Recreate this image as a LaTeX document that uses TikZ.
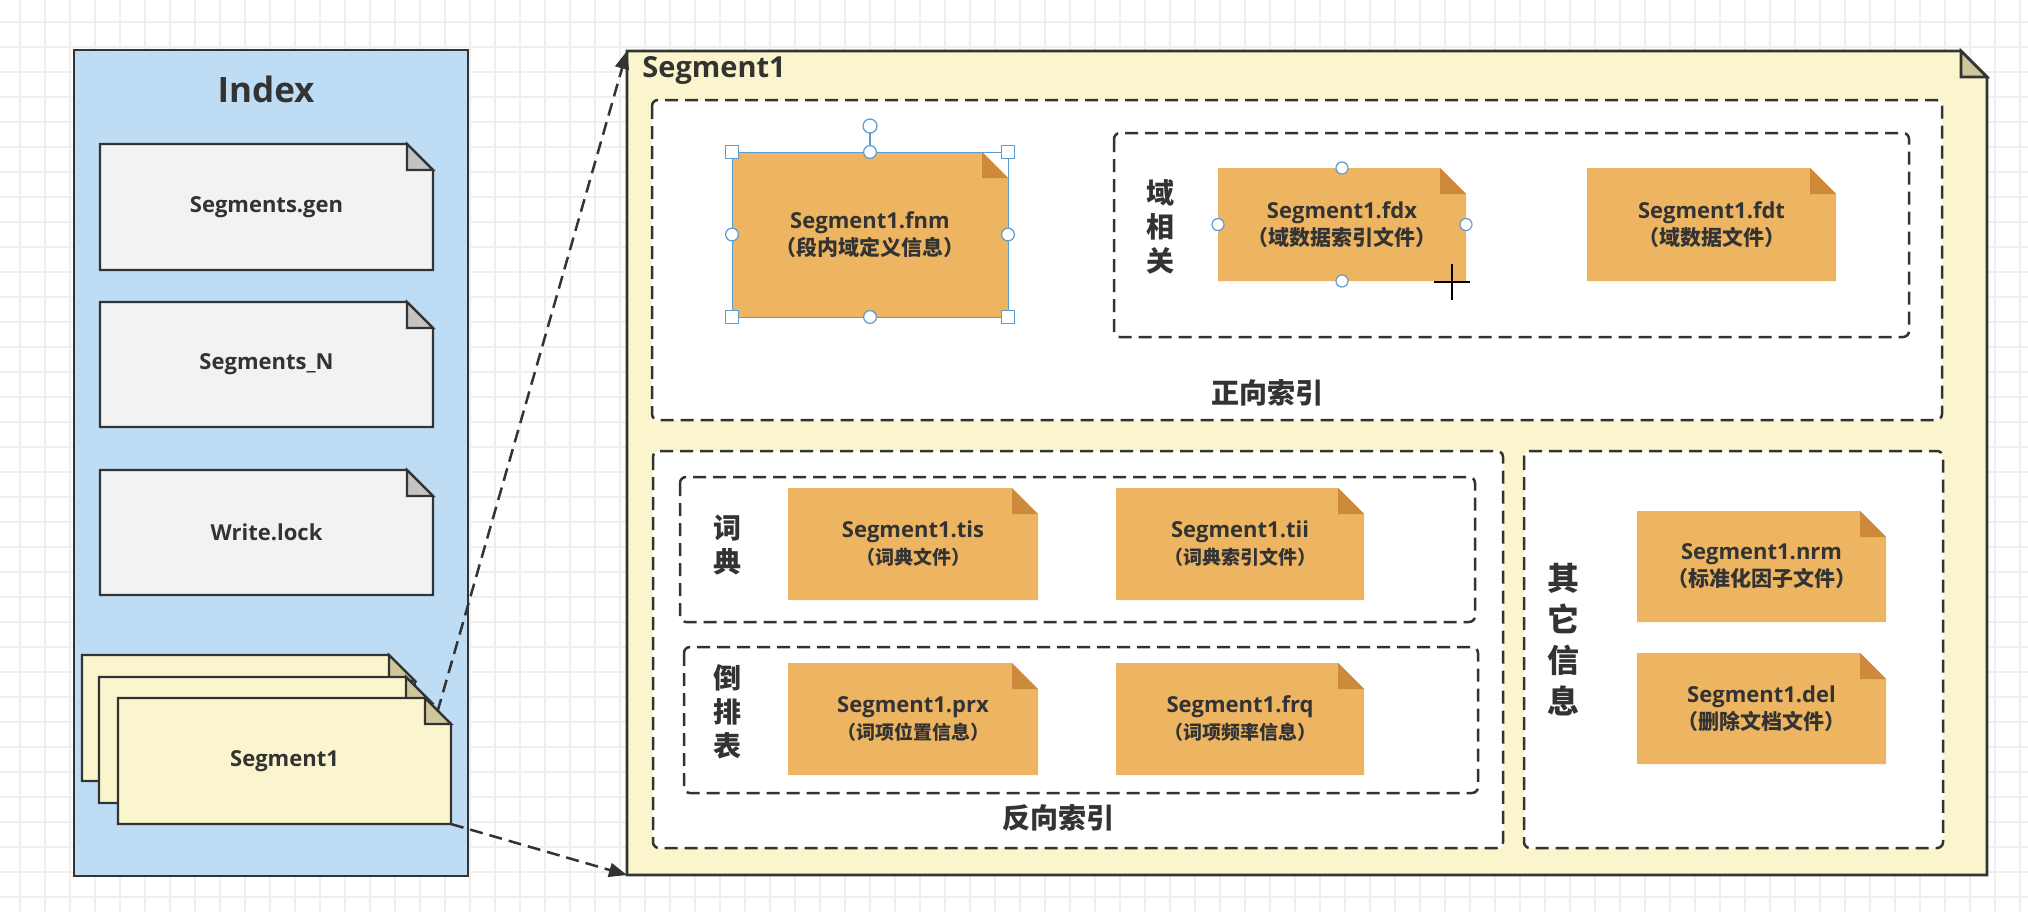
\documentclass[tikz,border=0pt]{standalone}
\usepackage{fontspec}
\setmainfont{Open Sans}
\newfontfamily\cjk{Noto Sans CJK SC}
\usetikzlibrary{arrows.meta}
\definecolor{ink}{HTML}{333333}
\definecolor{gridc}{HTML}{EFEFEF}
\definecolor{idxblue}{HTML}{BEDDF4}
\definecolor{segyel}{HTML}{FBF5CE}
\definecolor{foldyel}{HTML}{CFC79A}
\definecolor{docgray}{HTML}{F2F2F2}
\definecolor{foldgray}{HTML}{C3C3C3}
\definecolor{orafill}{HTML}{EDB562}
\definecolor{orafold}{HTML}{CC8A3A}
\definecolor{selblue}{HTML}{5A9BD0}
\tikzset{
  gridline/.style={gridc, line width=0.9pt},
  graybody/.style={fill=docgray, draw=ink, line width=1.1pt, line join=miter},
  grayfold/.style={fill=foldgray, draw=ink, line width=1.1pt, line join=miter},
  yelbody/.style={fill=segyel, draw=ink, line width=1.1pt, line join=miter},
  yelfold/.style={fill=foldyel, draw=ink, line width=1.1pt, line join=miter},
  orabody/.style={fill=orafill},
  orafold/.style={fill=orafold},
  docnode/.style={inner sep=0pt, outer sep=0pt, align=center, text=ink,
    font=\fontsize{11}{13.5}\selectfont\bfseries},
  dashbox/.style={draw=ink, fill=white, line width=1.25pt, dash pattern=on 6.5pt off 3.5pt, rounded corners=3pt},
  grouplbl/.style={text=ink, align=center, inner sep=0pt, font=\cjk\bfseries\fontsize{14}{17}\selectfont},
  conn/.style={draw=ink, line width=1.25pt, dash pattern=on 6.5pt off 3.5pt, -{Triangle[length=9pt,width=7pt]}},
  handle/.style={draw=selblue, fill=white, line width=0.6pt},
}
% #1 body style prefix, #2 node name, #3 x1, #4 y1, #5 x2, #6 y2, #7 text
\newcommand\docshape[7]{%
  \path[#1body] (#3,#4) -- ({#5-26},#4) -- (#5,{#4+26}) -- (#5,#6) -- (#3,#6) -- cycle;
  \path[#1fold] ({#5-26},#4) -- ({#5-26},{#4+26}) -- (#5,{#4+26}) -- cycle;
  \node[docnode, minimum width={(#5-#3)*0.5pt}, minimum height={(#6-#4)*0.5pt}] (#2) at ({(#3+#5)/2},{(#4+#6)/2}) {#7};
}
\newcommand\cn[1]{{\cjk\bfseries\fontsize{10.5}{13}\selectfont （#1）}}
\newcommand\cns[1]{{\cjk\bfseries\fontsize{9.5}{13}\selectfont （#1）}}
\begin{document}
\begin{tikzpicture}[x=0.5pt,y=-0.5pt]
\useasboundingbox (0,0) rectangle (2028,912);
\fill[white] (0,0) rectangle (2028,912);
\foreach \gx in {20,45,...,2020} \draw[gridline] (\gx,0) -- (\gx,912);
\foreach \gy in {22,47,...,910} \draw[gridline] (0,\gy) -- (2028,\gy);

% ---------- Index box ----------
\node[draw=ink, fill=idxblue, line width=1.3pt, inner sep=0pt, outer sep=0pt,
      minimum width=197pt, minimum height=413pt] (index) at (271,463) {};
\node[text=ink, font=\fontsize{17.5}{20}\selectfont\bfseries] (indextitle) at (266,89) {Index};
\docshape{gray}{gen}{100}{144}{433}{270}{Segments.gen}
\docshape{gray}{segn}{100}{302}{433}{427}{Segments\_N}
\docshape{gray}{wlock}{100}{470}{433}{595}{Write.lock}
\docshape{yel}{sega}{82}{655}{415}{781}{}
\docshape{yel}{segb}{99}{677}{432}{803}{}
\docshape{yel}{segc}{118}{698}{451}{824}{Segment1}

% ---------- Segment1 big box ----------
\path[yelbody, line width=1.3pt] (627,51) -- (1961,51) -- (1987,77) -- (1987,875) -- (627,875) -- cycle;
\path[yelfold, line width=1.3pt] (1961,51) -- (1961,77) -- (1987,77) -- cycle;
\node[inner sep=0pt, outer sep=0pt, minimum width=680pt, minimum height=412pt] (bigbox) at (1307,463) {};
\node[anchor=west, text=ink, inner sep=0pt, font=\fontsize{14.5}{17}\selectfont\bfseries] (bigtitle) at (642,70) {Segment1};

% forward index
\draw[dashbox] (652,100) rectangle (1942,420);
\node[grouplbl] (fwdlbl) at (1267,393) {正向索引};
\draw[dashbox] (1114,133) rectangle (1909,337);
\node[grouplbl] (fieldlbl) at (1160,227) {域\\相\\关};
\docshape{ora}{fnm}{732}{152}{1008}{317}{Segment1.fnm\\\cn{段内域定义信息}}
\docshape{ora}{fdx}{1218}{168}{1466}{281}{Segment1.fdx\\\cn{域数据索引文件}}
\docshape{ora}{fdt}{1587}{168}{1836}{281}{Segment1.fdt\\\cn{域数据文件}}

% inverse index
\draw[dashbox] (653,451) rectangle (1503,848);
\node[grouplbl] (invlbl) at (1058,818) {反向索引};
\draw[dashbox] (680,477) rectangle (1475,622);
\node[grouplbl] (dictlbl) at (727,545) {词\\典};
\draw[dashbox] (684,647) rectangle (1478,793);
\node[grouplbl] (postlbl) at (727,712) {倒\\排\\表};
\docshape{ora}{tis}{788}{488}{1038}{600}{Segment1.tis\\\cns{词典文件}}
\docshape{ora}{tii}{1116}{488}{1364}{600}{Segment1.tii\\\cns{词典索引文件}}
\docshape{ora}{prx}{788}{663}{1038}{775}{Segment1.prx\\\cns{词项位置信息}}
\docshape{ora}{frq}{1116}{663}{1364}{775}{Segment1.frq\\\cns{词项频率信息}}

% other info
\draw[dashbox] (1524,451) rectangle (1943,848);
\node[grouplbl, font=\cjk\bfseries\fontsize{16}{20.5}\selectfont] (otherlbl) at (1563,640) {其\\它\\信\\息};
\docshape{ora}{nrm}{1637}{511}{1886}{622}{Segment1.nrm\\\cn{标准化因子文件}}
\docshape{ora}{del}{1637}{653}{1886}{764}{Segment1.del\\\cn{删除文档文件}}

% ---------- connectors ----------
\coordinate (segcfold) at (437.5,711.5);
\draw[conn] (segcfold) -- (bigbox.north west);
\draw[conn] (segc.south east) -- (bigbox.south west);

% ---------- editor selection handles ----------
\draw[selblue, line width=0.5pt] (fnm.north west) rectangle (fnm.south east);
\draw[selblue, line width=0.6pt] (fnm.north) -- ++(0,-26) coordinate (rot);
\draw[handle] (rot) circle[radius=3.5pt];
\foreach \a in {north west,north east,south west,south east}
  \draw[handle] (fnm.\a) ++(-6.5,-6.5) rectangle ++(13,13);
\foreach \a in {north,south,east,west}
  \draw[handle] (fnm.\a) circle[radius=3.2pt];
\foreach \a in {north,south,east,west}
  \draw[handle] (fdx.\a) circle[radius=3pt];
% cursor
\draw[black, line width=1.2pt] (1434,282) -- (1470,282);
\draw[black, line width=1.2pt] (1452,264) -- (1452,300);
\end{tikzpicture}
\end{document}
